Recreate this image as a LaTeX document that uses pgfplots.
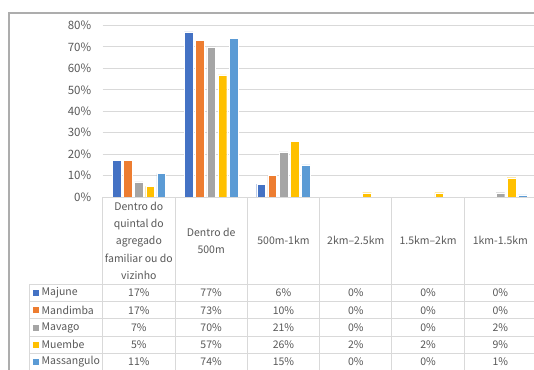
\documentclass[border=0pt]{standalone}
\usepackage{pgfplots}
\pgfplotsset{compat=1.18}
\usepackage{fontspec}
\setmainfont{Noto Sans CJK JP}

\definecolor{cMajune}{HTML}{4472C4}
\definecolor{cMandimba}{HTML}{ED7D31}
\definecolor{cMavago}{HTML}{A5A5A5}
\definecolor{cMuembe}{HTML}{FFC000}
\definecolor{cMassangulo}{HTML}{5B9BD5}
\definecolor{txt}{HTML}{595959}
\definecolor{gridc}{HTML}{D9D9D9}
\definecolor{framec}{HTML}{ADADAD}

\begin{document}
\begin{tikzpicture}[x=1pt,y=1pt]
\useasboundingbox (0,0) rectangle (534,-369);
\clip (0,0) rectangle (534,-369);
\fill[white] (0,0) rectangle (534,-369);

% chart area frame (continues past the visible region)
\draw[framec, line width=1.3pt] (9,-400) -- (9,-13) -- (560,-13);

\begin{axis}[
  at={(102.7pt,-197pt)}, anchor=south west,
  scale only axis, width=433.8pt, height=171.5pt,
  xmin=0, xmax=6, ymin=0, ymax=80,
  ybar=2.5pt, bar width=8.7pt,
  axis line style={draw=none},
  major tick length=0pt,
  ytick={0,10,...,80},
  yticklabel={\pgfmathparse{int(\tick)}\pgfmathresult\%},
  /pgf/number format/assume math mode=true,
  ymajorgrids, grid style={gridc, line width=0.9pt},
  yticklabel style={font=\fontsize{11.5pt}{13pt}\selectfont, text=txt, xshift=-8pt},
  xtick={0.5,1.5,2.5,3.5,4.5,5.5},
  xticklabels={{Dentro do\\quintal do\\agregado\\familiar ou do\\vizinho},{Dentro de\\500m},{500m-1km},{2km–2.5km},{1.5km–2km},{1km-1.5km}},
  xticklabel style={font=\fontsize{10.5pt}{17.3pt}\selectfont, text=txt, align=center, inner sep=0pt, anchor=center, yshift=-43.7pt},
  clip=false,
  every axis plot/.append style={draw=white, line width=0.4pt},
]
\addplot[fill=cMajune]     coordinates {(0.5,17) (1.5,77) (2.5,6)  (3.5,0) (4.5,0) (5.5,0)};
\addplot[fill=cMandimba]   coordinates {(0.5,17) (1.5,73) (2.5,10) (3.5,0) (4.5,0) (5.5,0)};
\addplot[fill=cMavago]     coordinates {(0.5,7)  (1.5,70) (2.5,21) (3.5,0) (4.5,0) (5.5,2)};
\addplot[fill=cMuembe]     coordinates {(0.5,5)  (1.5,57) (2.5,26) (3.5,2) (4.5,2) (5.5,9)};
\addplot[fill=cMassangulo] coordinates {(0.5,11) (1.5,74) (2.5,15) (3.5,0) (4.5,0) (5.5,1)};
\end{axis}

% data table grid
\begin{scope}[gridc, line width=0.9pt]
  \draw (102.7,-197) -- (560,-197);
  \foreach \r in {284.3,301.6,318.9,336.2,353.5} {\draw (29.3,-\r) -- (560,-\r);}
  \draw (29.3,-284.3) -- (29.3,-400);
  \foreach \c in {102.7,175,247.3,319.6,391.9,464.2} {\draw (\c,-197) -- (\c,-400);}
\end{scope}

% series names with colour keys
\begin{scope}[font=\fontsize{10.5pt}{12pt}\selectfont, text=txt]
  \foreach \n/\c [count=\i from 0] in {Majune/cMajune,Mandimba/cMandimba,Mavago/cMavago,Muembe/cMuembe,Massangulo/cMassangulo} {
    \pgfmathsetmacro{\yy}{-(292.9+17.3*\i)}
    \fill[\c] (33.3,\yy-3) rectangle (39.3,\yy+3);
    \node[anchor=west, inner sep=0pt] at (41.5,\yy) {\n};
  }
  % values, row by row
  \foreach \vals [count=\i from 0] in {
      {17\%,77\%,6\%,0\%,0\%,0\%},
      {17\%,73\%,10\%,0\%,0\%,0\%},
      {7\%,70\%,21\%,0\%,0\%,2\%},
      {5\%,57\%,26\%,2\%,2\%,9\%},
      {11\%,74\%,15\%,0\%,0\%,1\%}} {
    \pgfmathsetmacro{\yy}{-(292.9+17.3*\i)}
    \foreach \v [count=\j from 0] in \vals {
      \node[inner sep=0pt] at (138.85+72.3*\j,\yy) {\v};
    }
  }
\end{scope}
\end{tikzpicture}
\end{document}
